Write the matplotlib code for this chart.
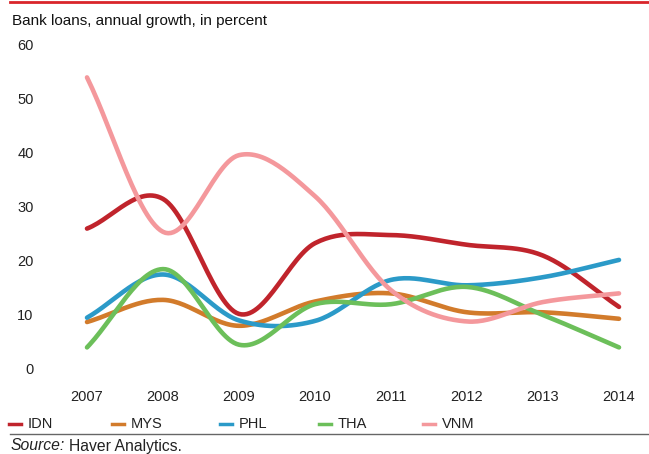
import numpy as np
import matplotlib.pyplot as plt
from matplotlib.lines import Line2D

plt.rcParams['font.family'] = ['Liberation Sans', 'DejaVu Sans']

years = [2007, 2008, 2009, 2010, 2011, 2012, 2013, 2014]
countries = ['IDN', 'MYS', 'PHL', 'THA', 'VNM']
idn = [26.0, 31.5, 10.2, 23.3, 24.8, 23.0, 21.0, 11.5]
mys = [8.7, 12.8, 8.0, 12.5, 14.0, 10.5, 10.5, 9.3]
phl = [9.5, 17.5, 9.0, 8.9, 16.5, 15.5, 17.0, 20.2]
tha = [4.0, 18.5, 4.5, 12.0, 12.0, 15.2, 10.0, 4.0]
vnm = [54.0, 25.4, 39.6, 32.0, 14.6, 8.8, 12.4, 14.0]
series = [idn, mys, phl, tha, vnm]
colors = ['#C0242C', '#D27B2B', '#2B9AC8', '#6CBF5A', '#F4989C']


def smooth(x, y, n=30):
    # catmull-rom through the points, like a spreadsheet "smoothed line"
    x = np.asarray(x, float)
    y = np.asarray(y, float)
    px = np.concatenate([[2 * x[0] - x[1]], x, [2 * x[-1] - x[-2]]])
    py = np.concatenate([[2 * y[0] - y[1]], y, [2 * y[-1] - y[-2]]])
    xs, ys = [], []
    t = np.linspace(0, 1, n)
    for i in range(1, len(px) - 2):
        for p, out in ((px, xs), (py, ys)):
            p0, p1, p2, p3 = p[i - 1], p[i], p[i + 1], p[i + 2]
            out.extend(0.5 * (2 * p1 + (-p0 + p2) * t
                              + (2 * p0 - 5 * p1 + 4 * p2 - p3) * t ** 2
                              + (-p0 + 3 * p1 - 3 * p2 + p3) * t ** 3))
    return np.array(xs), np.array(ys)


W, H = 649, 454
fig = plt.figure(figsize=(W / 100, H / 100), dpi=100)
ax = fig.add_axes([60 / W, 1 - 380 / H, 580 / W, 340 / H])

for vals, c in zip(series, colors):
    sx, sy = smooth(years, vals)
    ax.plot(sx, sy, color=c, lw=3.3, solid_capstyle='round')

ax.set_xlim(2007 - 27 / 76, 2014 + 21 / 76)
ax.set_ylim(-11 / 5.4, 60 + 5 / 5.4)
ax.set_xticks(years)
ax.set_yticks(range(0, 61, 10))
for s in ax.spines.values():
    s.set_visible(False)
ax.tick_params(length=0, labelsize=10.5, colors='#222222')
ax.tick_params(axis='y', pad=19)
ax.tick_params(axis='x', pad=7)

# header / footer
fig.add_artist(Line2D([10 / W, 1], [1 - 1.5 / H] * 2, color='#D9252A', lw=2))
fig.text(12 / W, 1 - 21 / H, 'Bank loans, annual growth, in percent',
         fontsize=11, va='center', ha='left', color='#111111')

leg_x = [9, 112, 220, 319, 423]
for x0, c, name in zip(leg_x, colors, countries):
    fig.add_artist(Line2D([x0 / W, (x0 + 12) / W], [1 - 424 / H] * 2,
                          color=c, lw=2.5))
    fig.text((x0 + 19) / W, 1 - 424 / H, name, fontsize=10.5,
             va='center', ha='left', color='#222222')
fig.add_artist(Line2D([10 / W, 1], [1 - 434 / H] * 2, color='#666666', lw=1))
src = fig.text(11 / W, 1 - 446 / H, 'Source:', fontsize=11.3, style='italic',
               va='center', ha='left', color='#222222')
fig.canvas.draw()
bb = src.get_window_extent()
fig.text(bb.x1 / W + 4 / W, 1 - 446 / H, 'Haver Analytics.', fontsize=11.3,
         va='center', ha='left', color='#222222')

fig.savefig('out.png', dpi=100)
